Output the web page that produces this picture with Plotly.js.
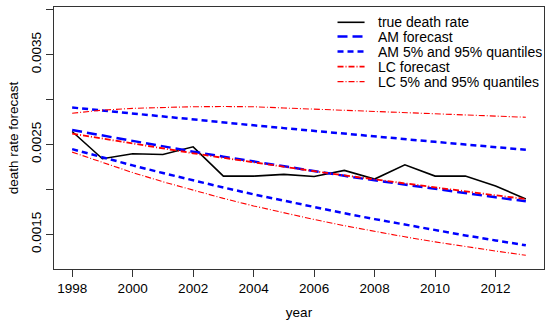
<!DOCTYPE html>
<html>
<head>
<meta charset="utf-8">
<script src="https://cdn.plot.ly/plotly-3.0.1.min.js"></script>
<style>html,body{margin:0;padding:0;background:#fff;}#chart{width:550px;height:323px;}</style>
</head>
<body>
<div id="chart"></div>
<script>
var years = [1998,1999,2000,2001,2002,2003,2004,2005,2006,2007,2008,2009,2010,2011,2012,2013];
var trueRate = [0.002644,0.002341,0.002396,0.002389,0.002474,0.002148,0.002148,0.002167,0.002144,0.002211,0.002115,0.002274,0.002148,0.002148,0.002037,0.001893];
var amForecast = [0.00266,0.002598,0.002537,0.002478,0.00242,0.002364,0.002309,0.002255,0.002202,0.002151,0.002101,0.002052,0.002004,0.001957,0.001912,0.001867];
var amUpper = [0.002911,0.002877,0.002844,0.00281,0.002778,0.002745,0.002713,0.002682,0.00265,0.002619,0.002589,0.002559,0.002529,0.002499,0.00247,0.002441];
var amLower = [0.002448,0.002356,0.002267,0.002182,0.0021,0.002021,0.001945,0.001872,0.001802,0.001734,0.001669,0.001606,0.001546,0.001488,0.001432,0.001378];
var lcForecast = [0.00262,0.002564,0.002509,0.002455,0.002402,0.002351,0.0023,0.002251,0.002203,0.002156,0.00211,0.002064,0.00202,0.001977,0.001934,0.001893];
var lcUpper = [0.002848,0.002882,0.002902,0.002914,0.00292,0.002922,0.00292,0.002906,0.002893,0.00288,0.002867,0.002854,0.002841,0.002829,0.002816,0.002803];
var lcLower = [0.002415,0.002297,0.002187,0.002085,0.001989,0.0019,0.001816,0.001738,0.001665,0.001596,0.001532,0.001472,0.001416,0.001363,0.001314,0.001267];
var xTicks = [1998,2000,2002,2004,2006,2008,2010,2012];
var yTicks = [0.0015,0.002,0.0025,0.003,0.0035,0.004];
var yTickText = ['0.0015','','0.0025','','0.0035',''];
var legendLabels = ['true death rate','AM forecast','AM 5% and 95% quantiles','LC forecast','LC 5% and 95% quantiles'];

var FONT = 'Liberation Sans, Arial, Helvetica, sans-serif';
var styles = [
  {color: '#000000', width: 1.6, dash: 'solid'},
  {color: '#0000ff', width: 2.5, dash: '10px,5px'},
  {color: '#0000ff', width: 2.5, dash: '6px,4px'},
  {color: '#ff0000', width: 1.8, dash: '6px,2px,1px,2px'},
  {color: '#ff0000', width: 1.1, dash: '6px,2px,1px,2px'}
];
var traces = [
  {x: years, y: trueRate, mode: 'lines', line: styles[0]},
  {x: years, y: amForecast, mode: 'lines', line: styles[1]},
  {x: years, y: amUpper, mode: 'lines', line: styles[2]},
  {x: years, y: amLower, mode: 'lines', line: styles[2]},
  {x: years, y: lcForecast, mode: 'lines', line: styles[3]},
  {x: years, y: lcUpper, mode: 'lines', line: styles[4]},
  {x: years, y: lcLower, mode: 'lines', line: styles[4]}
];

// manual legend (R-style, no box)
var legRowY = [0.9416, 0.887, 0.8298, 0.7725, 0.7153];
var shapes = [], annotations = [];
legendLabels.forEach(function(lbl, i){
  shapes.push({type: 'line', xref: 'paper', yref: 'paper', x0: 0.5786, x1: 0.6338, y0: legRowY[i], y1: legRowY[i], line: styles[i]});
  annotations.push({xref: 'paper', yref: 'paper', x: 0.657, y: legRowY[i], xanchor: 'left', yanchor: 'middle', text: lbl, showarrow: false, font: {family: FONT, size: 14, color: '#000'}});
});

var layout = {
  width: 550, height: 323,
  margin: {l: 54, r: 6.4, t: 6.7, b: 54.3},
  paper_bgcolor: '#ffffff', plot_bgcolor: '#ffffff',
  font: {family: FONT, size: 13.5, color: '#000000'},
  showlegend: false,
  shapes: shapes,
  annotations: annotations,
  xaxis: {
    range: [1997.4, 2013.6], tickvals: xTicks, ticktext: xTicks.map(String),
    showgrid: false, zeroline: false, showline: true, mirror: true, linecolor: '#333', linewidth: 1,
    ticks: 'outside', ticklen: 7, tickcolor: '#333', tickfont: {size: 13.5},
    title: {text: 'year', font: {size: 13.5}, standoff: 12}
  },
  yaxis: {
    range: [0.001114, 0.00403], tickvals: yTicks, ticktext: yTickText, tickangle: -90,
    showgrid: false, zeroline: false, showline: true, mirror: true, linecolor: '#333', linewidth: 1,
    ticks: 'outside', ticklen: 7, tickcolor: '#333', tickfont: {size: 13.5},
    title: {text: 'death rate forecast', font: {size: 13.5}, standoff: 6}
  }
};
Plotly.newPlot('chart', traces, layout, {displayModeBar: false, staticPlot: true});
</script>
</body>
</html>
